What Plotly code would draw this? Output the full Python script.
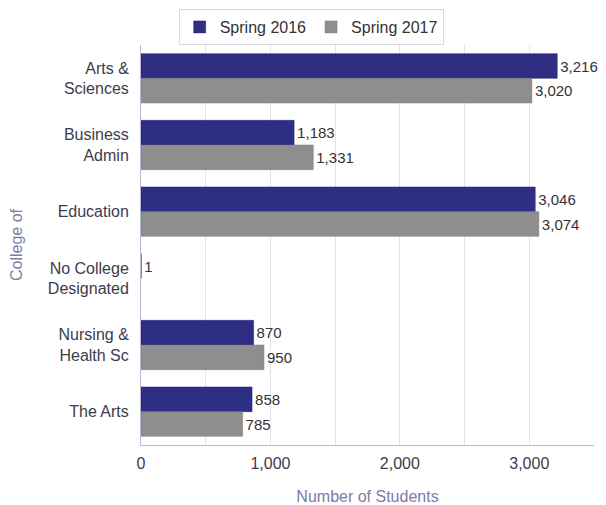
import plotly.graph_objects as go

colleges = ['Arts &<br>Sciences', 'Business<br>Admin', 'Education',
            'No College<br>Designated', 'Nursing &<br>Health Sc', 'The Arts']
spring_2016 = [3216, 1183, 3046, 1, 870, 858]
spring_2017 = [3020, 1331, 3074, None, 950, 785]

font = 'Liberation Sans, Arial, sans-serif'


def labels(vals):
    return [f'{v:,}' if v is not None else '' for v in vals]


fig = go.Figure()
fig.add_trace(go.Bar(
    y=colleges, x=spring_2016, name='Spring 2016', orientation='h',
    marker=dict(color='#2e2e84', line=dict(color='#23236e', width=0.5)),
    text=labels(spring_2016),
    textposition='outside', cliponaxis=False, constraintext='none',
    textfont=dict(size=15, color='#333333', family=font)))
fig.add_trace(go.Bar(
    y=colleges, x=spring_2017, name='Spring 2017', orientation='h',
    marker=dict(color='#8e8e8e', line=dict(color='#7a7a7a', width=0.5)),
    text=labels(spring_2017),
    textposition='outside', cliponaxis=False, constraintext='none',
    textfont=dict(size=15, color='#333333', family=font)))

# page body adds an 8px offset, so the figure is a bit smaller than the window
fig.update_layout(
    width=598, height=497,
    barmode='group', bargap=0.26, bargroupgap=0.0,
    plot_bgcolor='white', paper_bgcolor='white',
    font=dict(family=font, size=15, color='#3c3c4c'),
    margin=dict(l=133, r=12, t=37, b=60),
    legend=dict(orientation='h', x=0.507, xanchor='center', xref='container',
                y=0.998, yanchor='top', yref='container',
                bordercolor='#d8d8e0', borderwidth=1,
                font=dict(size=16, color='#333333'), traceorder='normal',
                itemwidth=30, tracegroupgap=0),
    xaxis=dict(range=[0, 3500], dtick=1000, tickformat=',', showgrid=True,
               gridcolor='#e4e4ee', zeroline=False, automargin=False,
               minor=dict(dtick=500, showgrid=True, gridcolor='#e4e4ee'),
               showline=True, linecolor='#b8b8d4', linewidth=1,
               ticks='', ticklabelstandoff=4, tickfont=dict(size=16, color='#3c3c4c'),
               title=dict(text='Number of Students', font=dict(size=16, color='#7b7ba6'),
                          standoff=22)),
    yaxis=dict(autorange='reversed', showline=True, linecolor='#b8b8d4', linewidth=1,
               automargin=False, ticks='', ticklabelstandoff=8,
               tickfont=dict(size=16, color='#3c3c4c'),
               title=dict(text='College of', font=dict(size=16, color='#7b7ba6'),
                          standoff=30)),
)

fig.write_html('out.html')
